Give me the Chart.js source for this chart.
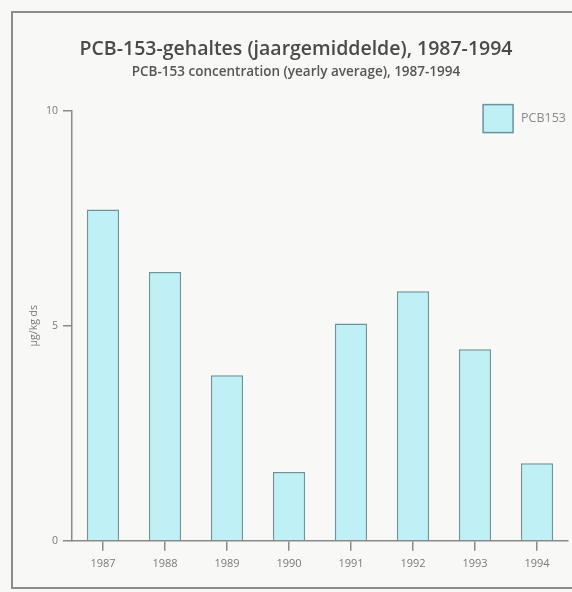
<!DOCTYPE html>
<html>
<head>
<meta charset="utf-8">
<script src="https://cdn.jsdelivr.net/npm/chart.js@4"></script>
<style>
  html, body { margin: 0; padding: 0; background: #f8f8f7; }
  #wrap { position: relative; width: 572px; height: 592px; overflow: hidden; }
  #frame { position: absolute; left: 11px; top: 11px; width: 600px; height: 578px;
           border: 2px solid #8d8d8d; box-sizing: border-box; }
  canvas { position: absolute; left: 0; top: 0; }
</style>
</head>
<body>
<div id="wrap">
  <div id="frame"></div>
  <canvas id="c" width="572" height="592"></canvas>
</div>
<script>
const years = ['1987', '1988', '1989', '1990', '1991', '1992', '1993', '1994'];
const pcb153 = [7.7, 6.25, 3.85, 1.6, 5.05, 5.8, 4.45, 1.8];
const seriesName = 'PCB153';
const titleText = 'PCB-153-gehaltes (jaargemiddelde), 1987-1994';
const subtitleText = 'PCB-153 concentration (yearly average), 1987-1994';
const yTitle = 'µg/kg ds';
const yTicks = [0, 5, 10];

const axisColor = '#8a8a8a';
const textColor = '#7a7a7a';

// Legend drawn in the top-right corner of the plot area (overlapping it, as in the original)
const cornerLegend = {
  id: 'cornerLegend',
  afterDraw(chart) {
    const ctx = chart.ctx;
    const ca = chart.chartArea;
    const ds = chart.data.datasets[0];
    const fontSize = 12.5;
    ctx.save();
    ctx.font = fontSize + 'px "Open Sans"';
    const tw = ctx.measureText(ds.label).width;
    const bw = 30, bh = 28, gap = 8;
    const x = ca.right - 2 - tw - gap - bw;
    const y = ca.top - 6;
    ctx.fillStyle = ds.backgroundColor;
    ctx.strokeStyle = ds.borderColor;
    ctx.lineWidth = ds.borderWidth;
    ctx.fillRect(x, y, bw, bh);
    ctx.strokeRect(x, y, bw, bh);
    ctx.fillStyle = '#8a8a8a';
    ctx.textBaseline = 'middle';
    ctx.textAlign = 'left';
    ctx.fillText(ds.label, x + bw + gap, y + bh / 2);
    ctx.restore();
  }
};

new Chart(document.getElementById('c'), {
  type: 'bar',
  data: {
    labels: years,
    datasets: [{
      label: seriesName,
      data: pcb153,
      backgroundColor: '#bff0f6',
      borderColor: '#6a9499',
      borderWidth: 1.5,
      categoryPercentage: 1,
      barPercentage: 0.52
    }]
  },
  plugins: [cornerLegend],
  options: {
    responsive: false,
    animation: false,
    layout: { padding: { left: 24, right: 4, top: 34, bottom: 16 } },
    plugins: {
      title: {
        display: true,
        text: titleText,
        color: '#4a4a4a',
        font: { family: 'Open Sans', size: 19.5, weight: '600' },
        padding: { top: 4, bottom: 3 }
      },
      subtitle: {
        display: true,
        text: subtitleText,
        color: '#555',
        font: { family: 'Open Sans', size: 13.5, weight: '600' },
        padding: { top: 0, bottom: 30 }
      },
      legend: { display: false },
      tooltip: { enabled: false }
    },
    scales: {
      x: {
        offset: true,
        grid: { display: true, drawOnChartArea: false, offset: false, tickLength: 10, color: axisColor, lineWidth: 1.5 },
        border: { color: axisColor, width: 1.5 },
        ticks: { color: textColor, font: { family: 'Open Sans', size: 11 }, padding: 6, maxRotation: 0 }
      },
      y: {
        min: 0,
        max: 10,
        afterFit: (s) => { s.width = 48; },
        afterBuildTicks: (s) => { s.ticks = yTicks.map(v => ({ value: v })); },
        grid: { display: true, drawOnChartArea: false, tickLength: 9, color: axisColor, lineWidth: 1.5 },
        border: { color: axisColor, width: 1.5 },
        ticks: { color: textColor, font: { family: 'Open Sans', size: 10.5 }, padding: 5 },
        title: { display: true, text: yTitle, color: textColor, font: { family: 'Open Sans', size: 10.5 }, padding: 4 }
      }
    }
  }
});
</script>
</body>
</html>
